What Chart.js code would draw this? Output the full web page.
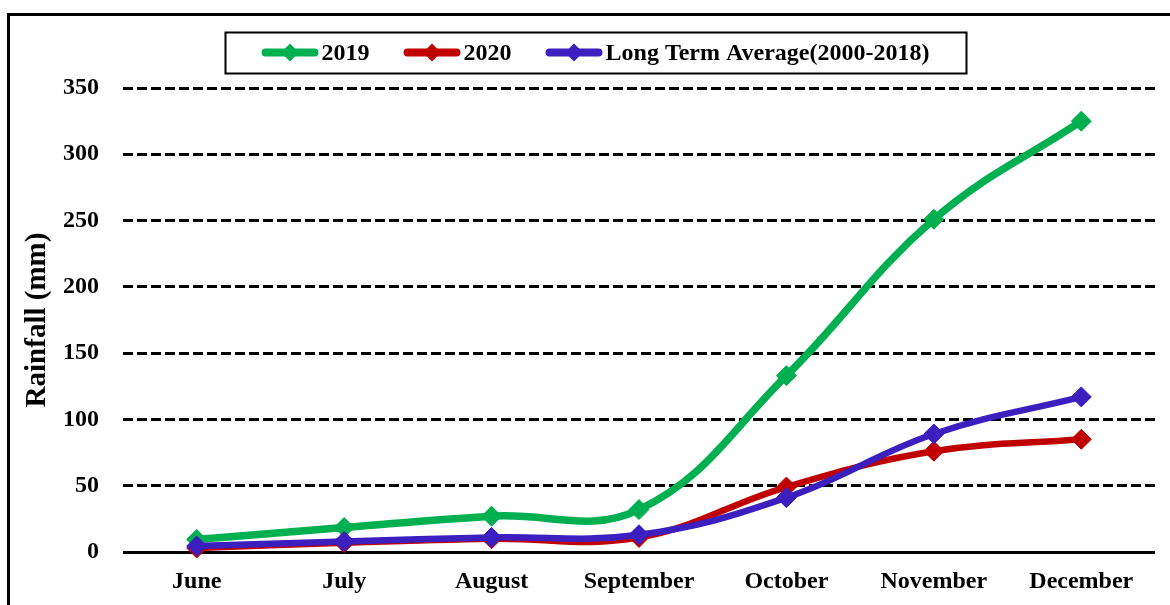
<!DOCTYPE html>
<html>
<head>
<meta charset="utf-8">
<script src="https://cdn.jsdelivr.net/npm/chart.js@4.4.1/dist/chart.umd.min.js"></script>
<style>
  html, body { margin: 0; padding: 0; background: #fff; }
  #wrap { width: 1170px; height: 605px; position: relative; }
</style>
</head>
<body>
<div id="wrap"><canvas id="c" width="1170" height="605"></canvas></div>
<script>
// Monthly cumulative rainfall (mm)
const months = ['June', 'July', 'August', 'September', 'October', 'November', 'December'];
const rain2019 = [9.5, 18.5, 27, 32, 133, 251, 325];
const rain2020 = [3, 7, 10, 11, 49, 76, 85];
const rainLongTerm = [4.5, 8, 11, 13, 41, 89, 117];
const seriesLabels = ['2019', '2020', 'Long Term Average(2000-2018)'];
const seriesColors = ['#00B050', '#C00000', '#3B1FBF'];
const yMin = 0, yMax = 350, yStep = 50;
const axisTitle = 'Rainfall (mm)';

const FONT = 'Liberation Serif, "Times New Roman", serif';

// Outer frame behind the chart, boxed legend on top of it
const framePlugin = {
  id: 'frameLegend',
  beforeDraw(chart) {
    const ctx = chart.ctx;
    ctx.save();
    ctx.fillStyle = '#fff';
    ctx.fillRect(0, 0, chart.width, chart.height);
    ctx.strokeStyle = '#000';
    ctx.lineWidth = 3;
    ctx.strokeRect(8.5, 14.5, 1200, 700);
    ctx.restore();
  },
  afterDraw(chart) {
    const ctx = chart.ctx;
    const box = { x: 225, y: 32, w: 741, h: 41 };
    ctx.save();
    ctx.fillStyle = '#fff';
    ctx.fillRect(box.x, box.y, box.w, box.h);
    ctx.strokeStyle = '#000';
    ctx.lineWidth = 2;
    ctx.strokeRect(box.x + 0.5, box.y + 0.5, box.w, box.h);

    ctx.font = 'bold 24px ' + FONT;
    const sample = 57, textGap = 3, itemGap = 34;
    const items = chart.data.datasets.map(ds => ({
      label: ds.label, color: ds.borderColor, tw: ctx.measureText(ds.label).width
    }));
    const total = items.reduce((s, it) => s + sample + textGap + it.tw, 0) + itemGap * (items.length - 1);
    let x = box.x + (box.w - total) / 2;
    const cy = box.y + box.h / 2;
    items.forEach(it => {
      ctx.strokeStyle = it.color;
      ctx.lineWidth = 8;
      ctx.lineCap = 'round';
      ctx.beginPath();
      ctx.moveTo(x + 4, cy);
      ctx.lineTo(x + sample - 4, cy);
      ctx.stroke();
      const mx = x + sample / 2, r = 9;
      ctx.fillStyle = it.color;
      ctx.beginPath();
      ctx.moveTo(mx, cy - r);
      ctx.lineTo(mx + r, cy);
      ctx.lineTo(mx, cy + r);
      ctx.lineTo(mx - r, cy);
      ctx.closePath();
      ctx.fill();
      ctx.fillStyle = '#000';
      ctx.textBaseline = 'middle';
      ctx.textAlign = 'left';
      ctx.fillText(it.label, x + sample + textGap, cy + 1);
      x += sample + textGap + it.tw + itemGap;
    });
    ctx.restore();
  }
};

const seriesValues = [rain2019, rain2020, rainLongTerm];
const datasets = seriesValues.map((vals, i) => ({
  label: seriesLabels[i],
  data: vals,
  borderColor: seriesColors[i],
  backgroundColor: seriesColors[i],
  pointBackgroundColor: seriesColors[i],
  pointBorderColor: seriesColors[i],
  borderWidth: i === 0 ? 7.5 : 6.5,
  pointStyle: 'rectRot',
  pointRadius: 10,
  pointBorderWidth: 1,
  tension: 0.4,
  fill: false,
  clip: false,
  order: [2, 1, 0][i]
}));

new Chart(document.getElementById('c'), {
  type: 'line',
  data: { labels: months, datasets },
  plugins: [framePlugin],
  options: {
    responsive: false,
    animation: false,
    devicePixelRatio: 1,
    layout: { padding: { left: 0, right: 15, top: 88, bottom: 0 } },
    plugins: { legend: { display: false }, tooltip: { enabled: false } },
    scales: {
      x: {
        offset: true,
        grid: { display: false, drawTicks: false },
        border: { display: false },
        ticks: {
          color: '#000', padding: 15, maxRotation: 0, autoSkip: false,
          font: { family: FONT, size: 24, weight: 'bold' }
        },
        afterFit(scale) { scale.height = 53; }
      },
      y: {
        min: yMin, max: yMax,
        grid: { color: '#000', lineWidth: 3, drawTicks: false },
        border: { display: false, dash: c => (c.tick && c.tick.value === 0) ? [] : [10, 4] },
        ticks: {
          stepSize: yStep, color: '#000', padding: 24,
          font: { family: FONT, size: 24, weight: 'bold' }
        },
        title: {
          display: true, text: axisTitle, color: '#000',
          font: { family: FONT, size: 29, weight: 'bold' },
          padding: { top: 20, bottom: 0 }
        },
        afterFit(scale) { scale.width = 123; }
      }
    }
  }
});
</script>
</body>
</html>
